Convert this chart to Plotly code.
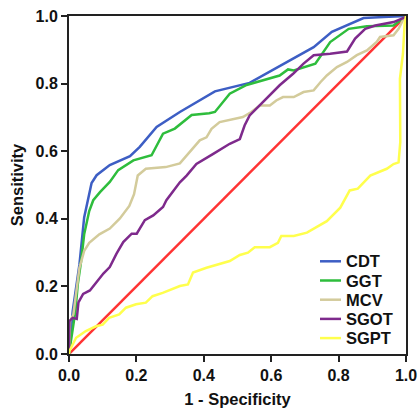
import plotly.graph_objects as go

tick_vals = [0.0, 0.2, 0.4, 0.6, 0.8, 1.0]
tick_text = ["0.0", "0.2", "0.4", "0.6", "0.8", "1.0"]

cdt_x = [0, 0.011, 0.031, 0.045, 0.067, 0.082, 0.121, 0.181, 0.210, 0.260, 0.329, 0.415, 0.433, 0.536, 0.664, 0.726, 0.780, 0.874, 0.933, 1.0]
cdt_y = [0, 0.127, 0.265, 0.404, 0.506, 0.529, 0.559, 0.585, 0.613, 0.672, 0.716, 0.768, 0.777, 0.802, 0.873, 0.908, 0.953, 0.994, 0.997, 1.0]

ggt_x = [0, 0.011, 0.019, 0.026, 0.036, 0.045, 0.060, 0.072, 0.092, 0.121, 0.146, 0.191, 0.245, 0.279, 0.314, 0.364, 0.416, 0.433, 0.477, 0.527, 0.576, 0.625, 0.650, 0.667, 0.731, 0.775, 0.830, 0.884, 0.963, 1.0]
ggt_y = [0, 0.068, 0.127, 0.206, 0.275, 0.354, 0.423, 0.455, 0.479, 0.509, 0.544, 0.573, 0.588, 0.652, 0.667, 0.707, 0.712, 0.716, 0.770, 0.796, 0.809, 0.824, 0.842, 0.839, 0.859, 0.923, 0.962, 0.970, 0.972, 1.0]

mcv_x = [0, 0.003, 0.013, 0.021, 0.031, 0.045, 0.060, 0.090, 0.121, 0.151, 0.179, 0.193, 0.204, 0.228, 0.287, 0.329, 0.348, 0.373, 0.388, 0.408, 0.423, 0.447, 0.487, 0.516, 0.541, 0.566, 0.596, 0.615, 0.635, 0.667, 0.696, 0.726, 0.746, 0.765, 0.795, 0.825, 0.854, 0.884, 0.913, 0.923, 0.963, 0.978, 0.993, 1.0]
mcv_y = [0, 0.097, 0.117, 0.186, 0.255, 0.305, 0.329, 0.354, 0.371, 0.401, 0.438, 0.473, 0.528, 0.548, 0.553, 0.564, 0.587, 0.617, 0.632, 0.641, 0.666, 0.686, 0.696, 0.701, 0.716, 0.735, 0.735, 0.750, 0.760, 0.760, 0.775, 0.780, 0.804, 0.824, 0.849, 0.864, 0.884, 0.898, 0.923, 0.938, 0.943, 0.962, 0.992, 1.0]

sgot_x = [0, 0.001, 0.011, 0.023, 0.028, 0.042, 0.062, 0.082, 0.102, 0.121, 0.141, 0.161, 0.186, 0.201, 0.225, 0.250, 0.279, 0.289, 0.329, 0.349, 0.378, 0.428, 0.477, 0.507, 0.521, 0.536, 0.566, 0.596, 0.625, 0.665, 0.696, 0.726, 0.775, 0.825, 0.849, 0.879, 0.909, 0.963, 0.993, 1.0]
sgot_y = [0, 0.097, 0.107, 0.104, 0.153, 0.178, 0.188, 0.213, 0.238, 0.257, 0.297, 0.331, 0.356, 0.356, 0.396, 0.410, 0.435, 0.455, 0.508, 0.528, 0.562, 0.592, 0.622, 0.636, 0.676, 0.706, 0.735, 0.765, 0.795, 0.829, 0.859, 0.884, 0.888, 0.895, 0.933, 0.962, 0.972, 0.982, 0.994, 1.0]

sgpt_x = [0, 0.001, 0.021, 0.050, 0.080, 0.100, 0.119, 0.149, 0.169, 0.199, 0.228, 0.248, 0.278, 0.302, 0.329, 0.353, 0.368, 0.408, 0.477, 0.507, 0.531, 0.551, 0.596, 0.620, 0.630, 0.667, 0.706, 0.765, 0.805, 0.833, 0.857, 0.894, 0.943, 0.963, 0.978, 0.983, 0.982, 0.991, 0.996, 1.0]
sgpt_y = [0, 0.008, 0.048, 0.068, 0.082, 0.087, 0.107, 0.117, 0.137, 0.147, 0.152, 0.171, 0.181, 0.191, 0.201, 0.206, 0.241, 0.255, 0.275, 0.293, 0.300, 0.316, 0.316, 0.329, 0.349, 0.349, 0.359, 0.393, 0.433, 0.484, 0.489, 0.528, 0.548, 0.562, 0.567, 0.627, 0.814, 0.889, 0.978, 1.0]

ref_x = [0, 1]
ref_y = [0, 1]

series = [
    ("CDT", cdt_x, cdt_y, "#3D5EC4"),
    ("GGT", ggt_x, ggt_y, "#2EBD3C"),
    ("MCV", mcv_x, mcv_y, "#D3CB9B"),
    ("SGOT", sgot_x, sgot_y, "#7E2A8C"),
    ("SGPT", sgpt_x, sgpt_y, "#FFFF4D"),
]

W, H = 420, 410
ML, MR, MT, MB = 69, 14, 16, 56
pw, ph = W - ML - MR, H - MT - MB

fig = go.Figure()
fig.add_trace(go.Scatter(x=ref_x, y=ref_y, mode="lines", showlegend=False,
                         line=dict(color="#FF3333", width=2.5)))
for name, xs, ys, col in series:
    fig.add_trace(go.Scatter(x=xs, y=ys, mode="lines", name=name, showlegend=False,
                             line=dict(color=col, width=2.5)))

font_fam = "Liberation Sans, Arial, sans-serif"

# manual legend (compact spacing like the original)
leg_line_x0, leg_line_x1, leg_text_x = 320, 341, 344
leg_top, leg_step = 261.3, 19.2
for i, (name, xs, ys, col) in enumerate(series):
    py = leg_top + i * leg_step
    yp = (H - MB - py) / ph
    fig.add_shape(type="line", xref="paper", yref="paper",
                  x0=(leg_line_x0 - ML) / pw, x1=(leg_line_x1 - ML) / pw, y0=yp, y1=yp,
                  line=dict(color=col, width=2.5))
    fig.add_annotation(xref="paper", yref="paper", x=(leg_text_x - ML) / pw, y=yp,
                       xanchor="left", yanchor="middle", showarrow=False, text=name,
                       font=dict(family=font_fam, size=16.5, color="#111111", weight="bold"))

axis_common = dict(
    range=[0, 1], tickvals=tick_vals, ticktext=tick_text,
    showgrid=False, zeroline=False, automargin=False,
    showline=True, linecolor="#222222", linewidth=2, mirror=True,
    ticks="outside", ticklen=6, tickwidth=2, tickcolor="#222222",
    tickfont=dict(family=font_fam, size=16, color="#111111", weight="bold"),
)

fig.update_layout(
    width=W, height=H,
    margin=dict(l=ML, r=MR, t=MT, b=MB),
    paper_bgcolor="white", plot_bgcolor="white",
    xaxis=dict(**axis_common,
               title=dict(text="1 - Specificity", standoff=10,
                          font=dict(family=font_fam, size=16.5, color="#111111", weight="bold"))),
    yaxis=dict(**axis_common,
               title=dict(text="Sensitivity", standoff=8,
                          font=dict(family=font_fam, size=16.5, color="#111111", weight="bold"))),
    showlegend=False,
)

fig.write_html("out.html", config={"displayModeBar": False},
               post_script="document.body.style.margin='0';")
